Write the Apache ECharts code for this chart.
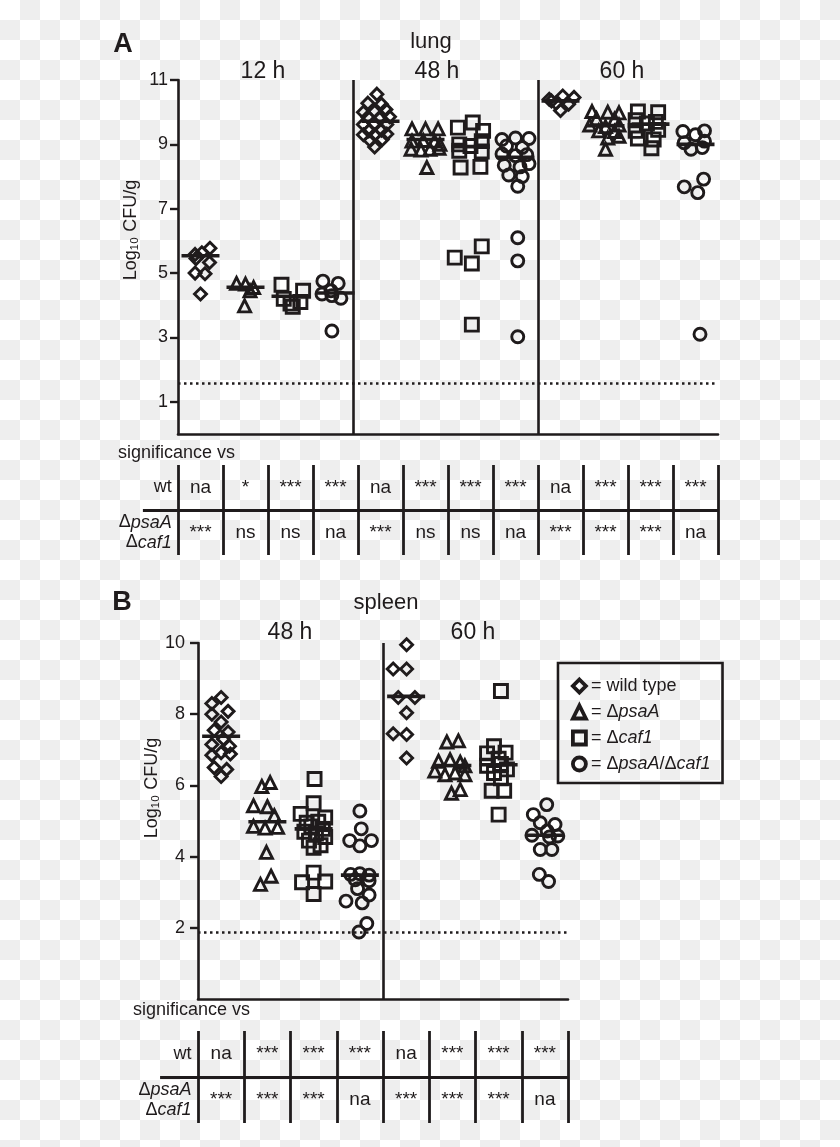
<!DOCTYPE html>
<html><head><meta charset="utf-8">
<script src="https://cdn.jsdelivr.net/npm/echarts@6/dist/echarts.min.js"></script>
<style>
html,body{margin:0;padding:0;}
body{width:840px;height:1147px;background:repeating-conic-gradient(#eeeeee 0 25%, #ffffff 0 50%) 0 0/40px 40px;}
#c{width:840px;height:1147px;}
</style></head><body><div id="c"></div>
<script>
// ---------------- DATA ----------------
const strains = ['wild type', 'ΔpsaA', 'Δcaf1', 'ΔpsaA/Δcaf1'];
const lungTimes = ['12 h', '48 h', '60 h'];
const spleenTimes = ['48 h', '60 h'];
const lungTicks = [1, 3, 5, 7, 9, 11];
const spleenTicks = [2, 4, 6, 8, 10];
const lungLimit = 1.58;
const spleenLimit = 1.87;

// points: [horizontal jitter within column, log10 CFU/g]
const lung12_wt   = [[-0.12,5.58],[0.03,5.63],[0.21,5.77],[0.2,5.33],[-0.1,5.45],[-0.12,5.0],[0.1,4.98],[0.0,4.35]];
const lung12_psaA = [[-0.2,4.68],[0.0,4.66],[0.18,4.55],[0.1,4.45],[-0.02,3.98]];
const lung12_caf1 = [[-0.2,4.64],[0.28,4.45],[-0.15,4.2],[0.05,3.95],[0.22,4.1],[0.0,4.05]];
const lung12_dbl  = [[-0.28,4.75],[0.06,4.68],[-0.3,4.35],[-0.08,4.3],[0.12,4.22],[-0.1,4.45],[-0.08,3.2]];

const lung48_wt   = [[-0.08,10.56],[-0.28,10.28],[0.02,10.25],[-0.38,10.0],[-0.13,10.02],[0.12,10.08],[-0.28,9.85],[-0.03,9.82],[0.2,9.86],[-0.38,9.62],[-0.13,9.65],[0.14,9.62],[-0.26,9.42],[0.02,9.44],[-0.38,9.3],[-0.13,9.3],[0.14,9.32],[-0.23,9.12],[0.04,9.15],[-0.13,8.92]];
const lung48_psaA = [[-0.3,9.48],[0.0,9.48],[0.28,9.48],[-0.3,9.1],[-0.05,9.12],[0.2,9.1],[0.32,9.0],[-0.32,8.85],[-0.1,8.82],[0.1,8.85],[0.3,8.88],[0.03,8.28]];
const lung48_caf1 = [[-0.28,9.52],[0.05,9.68],[0.28,9.42],[-0.25,9.0],[0.25,9.1],[0.0,8.95],[-0.25,8.8],[0.25,8.78],[-0.22,8.28],[0.22,8.3],[-0.35,5.48],[0.25,5.83],[0.03,5.3],[0.03,3.4]];
const lung48_dbl  = [[-0.3,9.15],[0.0,9.2],[0.3,9.18],[-0.2,8.95],[0.15,8.9],[-0.3,8.7],[0.0,8.65],[0.25,8.68],[-0.25,8.35],[0.1,8.3],[0.3,8.4],[-0.15,8.05],[0.15,8.0],[0.05,7.7],[0.05,6.1],[0.05,5.38],[0.05,3.02]];

const lung60_wt   = [[-0.25,10.4],[0.05,10.5],[0.3,10.46],[-0.1,10.28],[0.18,10.25],[0.0,10.05],[-0.2,10.35]];
const lung60_psaA = [[-0.3,10.02],[0.05,10.0],[0.3,9.98],[-0.2,9.8],[0.2,9.78],[-0.35,9.6],[0.0,9.55],[0.3,9.6],[-0.15,9.42],[0.2,9.4],[0.05,9.2],[0.3,9.25],[0.0,8.85]];
const lung60_caf1 = [[-0.28,10.02],[0.17,10.0],[-0.33,9.75],[0.12,9.7],[-0.08,9.65],[-0.33,9.42],[0.17,9.45],[-0.28,9.18],[0.07,9.15],[0.02,8.88]];
const lung60_dbl  = [[-0.28,9.4],[0.2,9.42],[0.0,9.3],[-0.25,9.05],[0.2,9.1],[-0.1,8.85],[0.15,8.9],[0.18,7.92],[-0.25,7.68],[0.05,7.5],[0.1,3.1]];

const spleen48_wt   = [[0.0,8.47],[-0.2,8.3],[0.15,8.08],[-0.2,8.0],[0.0,7.78],[-0.15,7.55],[0.15,7.5],[0.05,7.3],[-0.2,7.15],[0.18,7.1],[0.0,6.92],[-0.2,6.85],[0.2,6.88],[-0.15,6.5],[0.12,6.45],[0.0,6.25]];
const spleen48_psaA = [[-0.12,5.97],[0.06,6.08],[-0.3,5.43],[0.0,5.4],[0.15,5.15],[-0.3,4.85],[-0.05,4.8],[0.22,4.82],[-0.02,4.12],[-0.15,3.22],[0.08,3.45]];
const spleen48_caf1 = [[0.02,6.18],[0.0,5.5],[-0.28,5.2],[0.25,5.1],[-0.15,4.95],[0.1,4.98],[-0.05,4.85],[0.2,4.78],[-0.2,4.7],[0.05,4.65],[0.25,4.55],[-0.1,4.45],[0.15,4.32],[0.0,4.25],[0.0,3.55],[-0.25,3.28],[0.25,3.3],[0.0,2.95]];
const spleen48_dbl  = [[0.0,5.28],[0.03,4.78],[-0.22,4.45],[0.25,4.45],[0.0,4.3],[-0.2,3.5],[0.0,3.52],[0.2,3.48],[-0.1,3.35],[0.2,3.32],[-0.05,3.1],[0.2,2.92],[-0.3,2.75],[0.05,2.7],[0.15,2.12],[-0.02,1.88]];

const spleen60_wt   = [[0.01,9.95],[-0.28,9.27],[0.01,9.27],[-0.17,8.47],[0.19,8.47],[0.01,8.04],[-0.28,7.45],[0.01,7.43],[0.01,6.77]];
const spleen60_psaA = [[-0.12,7.22],[0.13,7.25],[-0.3,6.68],[-0.05,6.72],[0.17,6.65],[0.27,6.55],[-0.38,6.4],[-0.16,6.3],[0.06,6.35],[0.27,6.3],[-0.02,5.78],[0.17,5.88]];
const spleen60_caf1 = [[0.05,8.65],[-0.1,7.1],[-0.25,6.9],[0.15,6.92],[0.0,6.75],[-0.25,6.55],[0.05,6.6],[0.18,6.45],[-0.1,6.35],[0.05,6.2],[-0.15,5.85],[0.12,5.85],[0.0,5.18]];
const spleen60_dbl  = [[0.04,5.46],[-0.25,5.18],[0.22,4.9],[-0.1,4.95],[0.05,4.72],[-0.28,4.6],[0.1,4.55],[0.28,4.58],[-0.1,4.2],[0.15,4.2],[-0.12,3.5],[0.08,3.3]];

const lungMedians   = [[5.54,4.56,4.28,4.38],[9.72,9.15,8.93,8.6],[10.35,9.58,9.63,9.0]];
const spleenMedians = [[7.38,4.98,4.78,3.48],[8.5,6.56,6.58,4.6]];

const lungSigWt    = ['na','*','***','***','na','***','***','***','na','***','***','***'];
const lungSigDbl   = ['***','ns','ns','na','***','ns','ns','na','***','***','***','na'];
const spleenSigWt  = ['na','***','***','***','na','***','***','***'];
const spleenSigDbl = ['***','***','***','na','***','***','***','na'];

// ---------------- STYLE / LAYOUT ----------------
const INK = '#1f1b1c';
const FONT = '"Liberation Sans", Arial, Helvetica, sans-serif';
const symbols = ['diamond', 'triangle', 'rect', 'circle'];
const symSizes = [12, 12, 13, 12];

const lungGroups = [
  [lung12_wt, lung12_psaA, lung12_caf1, lung12_dbl],
  [lung48_wt, lung48_psaA, lung48_caf1, lung48_dbl],
  [lung60_wt, lung60_psaA, lung60_caf1, lung60_dbl]
];
const spleenGroups = [
  [spleen48_wt, spleen48_psaA, spleen48_caf1, spleen48_dbl],
  [spleen60_wt, spleen60_psaA, spleen60_caf1, spleen60_dbl]
];

function plotSeries(groups, medians, gi, dividers, limit) {
  const out = [];
  strains.forEach((name, s) => {
    const data = [];
    groups.forEach((g, t) => g[s].forEach(([j, v]) => data.push([t * 4 + s + 0.5 + j, v])));
    out.push({
      type: 'scatter', name, xAxisIndex: gi, yAxisIndex: gi,
      symbol: symbols[s], symbolSize: symSizes[s], data, silent: true,
      itemStyle: { color: 'rgba(0,0,0,0)', borderColor: INK, borderWidth: 2.9, opacity: 1 },
      emphasis: { disabled: true }, z: 2
    });
  });
  const md = [];
  medians.forEach((m, t) => m.forEach((v, s) => md.push([t * 4 + s + 0.5, v])));
  out.push({
    type: 'scatter', name: 'median', xAxisIndex: gi, yAxisIndex: gi,
    symbol: 'rect', symbolSize: [38, 3.6], data: md, silent: true, z: 3,
    itemStyle: { color: INK, opacity: 1 }, emphasis: { disabled: true },
    markLine: {
      silent: true, symbol: 'none', label: { show: false }, animation: false,
      lineStyle: { color: INK },
      data: dividers.map(x => ({ xAxis: x, lineStyle: { type: 'solid', width: 2.6, color: INK } }))
        .concat([{ yAxis: limit, lineStyle: { type: [2.5, 3.5], width: 2.5, color: INK } }])
    }
  });
  return out;
}

function tableSeries(gi, sigWt, sigDbl, ncols, lineStart) {
  const cells = sigWt.map((t, c) => [c + 0.5, 1.5, t]).concat(sigDbl.map((t, c) => [c + 0.5, 0.5, t]));
  return [{
    type: 'scatter', xAxisIndex: gi, yAxisIndex: gi, symbolSize: 1, silent: true,
    itemStyle: { color: 'rgba(0,0,0,0)', opacity: 1 }, data: cells,
    label: { show: true, position: 'inside', formatter: p => p.value[2], fontSize: 19, color: INK, fontFamily: FONT, opacity: 1 }
  }, {
    type: 'scatter', xAxisIndex: gi, yAxisIndex: gi, symbolSize: 1, silent: true,
    itemStyle: { color: 'rgba(0,0,0,0)', opacity: 1 },
    data: [[-0.14, 1.5, 'wt'], [-0.14, 0.5, 'Δ{i|psaA}\nΔ{i|caf1}']],
    label: {
      show: true, position: 'inside', align: 'right', formatter: p => p.value[2], opacity: 1,
      fontSize: 18, color: INK, fontFamily: FONT, lineHeight: 20,
      rich: { i: { fontStyle: 'italic', fontSize: 18, color: INK, fontFamily: FONT, lineHeight: 20 } }
    },
    markLine: {
      silent: true, symbol: 'none', label: { show: false }, animation: false,
      lineStyle: { type: 'solid', color: INK, width: 2.8, opacity: 1 },
      data: [[{ coord: [lineStart, 1] }, { coord: [ncols, 1] }]]
    }
  }];
}

function plotX(gi, max) {
  return { gridIndex: gi, type: 'value', min: 0, max, axisLine: { show: true, onZero: false, lineStyle: { color: INK, width: 2.6 } },
    axisTick: { show: false }, axisLabel: { show: false }, splitLine: { show: false } };
}
function plotY(gi, max, ticks, margin) {
  return { gridIndex: gi, type: 'value', min: 0, max, interval: 1,
    axisLine: { show: true, onZero: false, lineStyle: { color: INK, width: 2.6 } },
    axisTick: { show: true, length: 8, customValues: ticks, lineStyle: { color: INK, width: 2.4 } },
    axisLabel: { show: true, customValues: ticks, fontSize: 18, color: INK, fontFamily: FONT, margin },
    splitLine: { show: false } };
}
function tableX(gi, max) {
  return { gridIndex: gi, type: 'value', min: -1, max, interval: 1,
    axisLine: { show: false }, axisTick: { show: false }, axisLabel: { show: false },
    splitLine: { show: true, showMinLine: false, lineStyle: { color: INK, width: 2.8 } } };
}
function tableY(gi) {
  return { gridIndex: gi, type: 'value', min: 0, max: 2, show: false };
}

function txt(text, x, y, size, opts) {
  opts = opts || {};
  return { type: 'text', x, y, rotation: opts.rot || 0, silent: true,
    style: { text, fill: INK, font: (opts.weight || 'normal') + ' ' + size + 'px ' + FONT,
      textAlign: opts.align || 'center', align: opts.align || 'center',
      textVerticalAlign: 'middle', verticalAlign: 'middle' } };
}

const lungTimeX = [263, 437, 622];
const spleenTimeX = [290, 473];

const graphics = [
  txt('A', 123, 45, 27, { weight: 'bold' }),
  txt('lung', 431, 42, 22),
  ...lungTimes.map((t, i) => txt(t, lungTimeX[i], 72, 23)),
  txt('Log₁₀ CFU/g', 131, 230, 18, { rot: Math.PI / 2 }),
  txt('significance vs', 118, 453, 18, { align: 'left' }),
  txt('B', 122, 603, 27, { weight: 'bold' }),
  txt('spleen', 386, 603, 22),
  ...spleenTimes.map((t, i) => txt(t, spleenTimeX[i], 633, 23)),
  txt('Log₁₀ CFU/g', 152, 788, 18, { rot: Math.PI / 2 }),
  txt('significance vs', 133, 1010, 18, { align: 'left' })
];

const option = {
  backgroundColor: 'transparent',
  animation: false,
  textStyle: { fontFamily: FONT, color: INK },
  grid: [
    { left: 178, top: 80, width: 540, height: 354 },
    { left: 133, top: 465, width: 585, height: 90 },
    { left: 198, top: 643, width: 370, height: 356 },
    { left: 151.75, top: 1031, width: 416.25, height: 92 }
  ],
  xAxis: [plotX(0, 12), tableX(1, 12), plotX(2, 8), tableX(3, 8)],
  yAxis: [plotY(0, 11, lungTicks, 10), tableY(1), plotY(2, 10, spleenTicks, 13), tableY(3)],
  legend: {
    show: true, orient: 'vertical', left: 558, top: 663, selectedMode: false,
    padding: [14, 12, 10, 13], itemGap: 8, itemWidth: 13, itemHeight: 13,
    borderColor: INK, borderWidth: 2.6, backgroundColor: 'transparent',
    data: strains,
    itemStyle: { borderWidth: 3.8, borderColor: INK, color: 'rgba(0,0,0,0)', opacity: 1 },
    formatter: n => '= ' + n.replace(/Δ([A-Za-z0-9]+)/g, 'Δ{i|$1}'),
    textStyle: { fontSize: 18, color: INK, fontFamily: FONT,
      rich: { i: { fontStyle: 'italic', fontSize: 18, color: INK, fontFamily: FONT } } }
  },
  graphic: graphics,
  series: [
    ...plotSeries(lungGroups, lungMedians, 0, [3.9, 8], lungLimit),
    ...tableSeries(1, lungSigWt, lungSigDbl, 12, -0.78),
    ...plotSeries(spleenGroups, spleenMedians, 2, [4], spleenLimit),
    ...tableSeries(3, spleenSigWt, spleenSigDbl, 8, -0.82)
  ]
};

const chart = echarts.init(document.getElementById('c'), null, { renderer: 'canvas', width: 840, height: 1147 });
chart.setOption(option);
</script>
</body></html>
